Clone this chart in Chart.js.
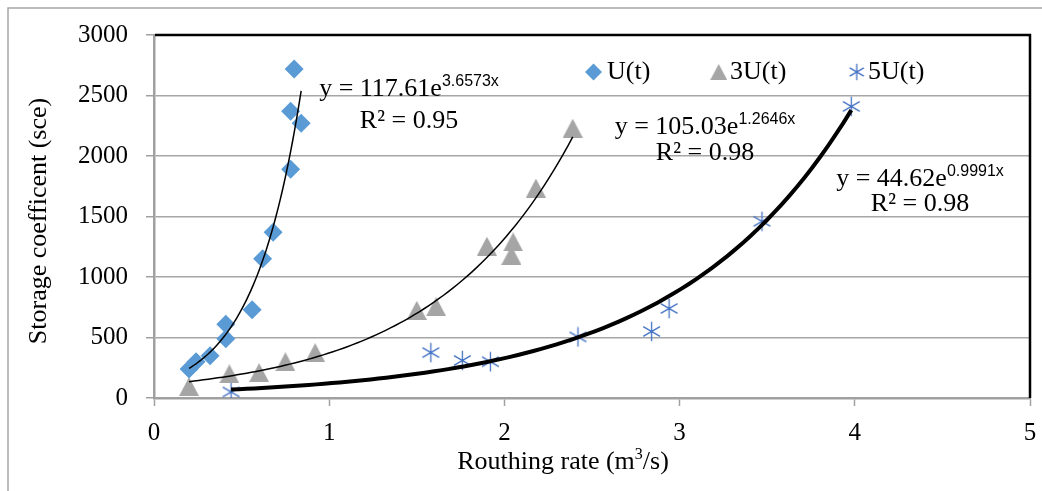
<!DOCTYPE html>
<html><head><meta charset="utf-8">
<script src="https://cdn.jsdelivr.net/npm/chart.js@4/dist/chart.umd.min.js"></script>
<style>html,body{margin:0;padding:0;background:#fff;overflow:hidden}canvas{display:block}</style>
</head><body>
<canvas id="c" width="1042" height="491"></canvas>
<script>
// ---- data ----
const seriesNames = ['U(t)', '3U(t)', '5U(t)'];
const uX  = [0.20, 0.24, 0.32, 0.41, 0.41, 0.56, 0.62, 0.68, 0.78, 0.78, 0.84, 0.80];
const uY  = [240, 300, 350, 490, 610, 730, 1150, 1370, 1890, 2370, 2270, 2720];
const u3X = [0.20, 0.43, 0.60, 0.75, 0.92, 1.50, 1.61, 1.90, 2.04, 2.05, 2.18, 2.39];
const u3Y = [95, 200, 210, 300, 375, 725, 755, 1255, 1180, 1290, 1735, 2230];
const u5X = [0.44, 1.58, 1.76, 1.92, 2.42, 2.84, 2.94, 3.47, 3.98];
const u5Y = [50, 375, 310, 300, 505, 550, 740, 1460, 2410];
// exponential trendline coefficients shown on the chart: y = a * e^(b x)
const trendA = [117.61, 105.03, 44.62];
const trendB = [3.6573, 1.2646, 0.9991];
const trendR2 = ['0.95', '0.98', '0.98'];
const trendExp = ['3.6573x', '1.2646x', '0.9991x'];
const trendCoef = ['117.61', '105.03', '44.62'];
const xTicks = [0, 1, 2, 3, 4, 5];
const yTicks = [0, 500, 1000, 1500, 2000, 2500, 3000];
const xTitle = ['Routhing rate (m', '3', '/s)'];
const yTitle = 'Storage coefficent (sce)';

const COL_U = '#5B9BD5', COL_3U = '#A5A5A5', COL_5U = '#4472C4';
const SERIF = '"Liberation Serif","Times New Roman",serif';
const SANS = '"Liberation Sans",Arial,sans-serif';

function pts(xs, ys) { return xs.map((x, i) => ({ x, y: ys[i] })); }
function trend(i, xs) {
  const lo = Math.min(...xs), hi = Math.max(...xs), n = 80, out = [];
  for (let k = 0; k <= n; k++) { const x = lo + (hi - lo) * k / n; out.push({ x, y: trendA[i] * Math.exp(trendB[i] * x) }); }
  return out;
}
function makeStar(size, color, lw) {
  const c = document.createElement('canvas'); c.width = c.height = size;
  const g = c.getContext('2d'); g.strokeStyle = color; g.lineWidth = lw;
  const r = size / 2 - 0.8, m = size / 2; g.beginPath();
  for (let k = 0; k < 3; k++) { const a = Math.PI / 2 + k * Math.PI / 3;
    g.moveTo(m + r * Math.cos(a), m + r * Math.sin(a)); g.lineTo(m - r * Math.cos(a), m - r * Math.sin(a)); }
  g.stroke(); return c;
}
function makeTri(w, h, color) {
  const c = document.createElement('canvas'); c.width = w; c.height = h;
  const g = c.getContext('2d'); g.fillStyle = color; g.beginPath();
  g.moveTo(w / 2, 0); g.lineTo(w, h); g.lineTo(0, h); g.closePath(); g.fill(); return c;
}
const starImg = makeStar(21, COL_5U, 1.3), triImg = makeTri(20, 19, COL_3U);
const starLeg = makeStar(18, COL_5U, 1.3), triLeg = makeTri(17, 16, COL_3U);

const deco = {
  id: 'deco',
  beforeDraw(chart) {
    const ctx = chart.ctx; ctx.save();
    ctx.fillStyle = '#fff'; ctx.fillRect(0, 0, chart.width, chart.height);
    ctx.strokeStyle = '#a6a6a6'; ctx.lineWidth = 1.5;
    ctx.strokeRect(8, 8, chart.width + 20, chart.height + 20);
    ctx.restore();
  },
  afterDraw(chart) {
    const ctx = chart.ctx, a = chart.chartArea; ctx.save();
    // top and right frame of plot area
    ctx.strokeStyle = '#000'; ctx.lineWidth = 2.5; ctx.beginPath();
    ctx.moveTo(a.left + 1, a.top); ctx.lineTo(a.right, a.top); ctx.lineTo(a.right, a.bottom); ctx.stroke();
    ctx.fillStyle = '#000'; ctx.textBaseline = 'middle';
    // trendline equations
    const eq = [[409, 89, 121], [705, 127, 153], [920, 179, 204]];
    eq.forEach((p, i) => {
      ctx.font = '26px ' + SERIF; const t1 = 'y = ' + trendCoef[i] + 'e';
      const w1 = ctx.measureText(t1).width; ctx.font = '16px ' + SANS;
      const w2 = ctx.measureText(trendExp[i]).width; let x0 = p[0] - (w1 + w2) / 2;
      ctx.textAlign = 'left'; ctx.font = '26px ' + SERIF; ctx.fillText(t1, x0, p[1]);
      ctx.font = '16px ' + SANS; ctx.fillText(trendExp[i], x0 + w1, p[1] - 7);
      ctx.font = '26px ' + SERIF; ctx.textAlign = 'center'; ctx.fillText('R\u00B2 = ' + trendR2[i], p[0], p[2]);
    });
    // legend
    const ly = 72; ctx.textAlign = 'left'; ctx.font = '26px ' + SERIF;
    ctx.fillStyle = COL_U; ctx.beginPath(); const dx = 593.5, r = 8.5;
    ctx.moveTo(dx - r, ly); ctx.lineTo(dx, ly - r); ctx.lineTo(dx + r, ly); ctx.lineTo(dx, ly + r); ctx.closePath(); ctx.fill();
    ctx.drawImage(triLeg, 718.7 - 8.5, ly - 8);
    ctx.drawImage(starLeg, 856.7 - 9, ly - 9);
    ctx.fillStyle = '#000';
    ctx.fillText(seriesNames[0], 607, ly); ctx.fillText(seriesNames[1], 730, ly); ctx.fillText(seriesNames[2], 868, ly);
    // axis titles
    ctx.save(); ctx.translate(39, 221); ctx.rotate(-Math.PI / 2); ctx.textAlign = 'center';
    ctx.font = '26px ' + SERIF; ctx.fillText(yTitle, 0, 0); ctx.restore();
    ctx.font = '26px ' + SERIF; const wa = ctx.measureText(xTitle[0]).width, wc = ctx.measureText(xTitle[2]).width;
    ctx.font = '16px ' + SERIF; const wb = ctx.measureText(xTitle[1]).width;
    let tx = 563 - (wa + wb + wc) / 2, ty = 462; ctx.textAlign = 'left';
    ctx.font = '26px ' + SERIF; ctx.fillText(xTitle[0], tx, ty);
    ctx.font = '16px ' + SERIF; ctx.fillText(xTitle[1], tx + wa, ty - 7);
    ctx.font = '26px ' + SERIF; ctx.fillText(xTitle[2], tx + wa + wb, ty);
    ctx.restore();
  }
};

function zeroPad(s) { s.paddingLeft = s.paddingRight = s.paddingTop = s.paddingBottom = 0; }

new Chart(document.getElementById('c'), {
  type: 'scatter',
  data: {
    datasets: [
      { label: seriesNames[0], data: pts(uX, uY), pointStyle: 'rectRot', pointRadius: 9.5, pointHoverRadius: 9.5,
        backgroundColor: COL_U, borderWidth: 0, borderColor: COL_U, order: 3 },
      { label: seriesNames[1], data: pts(u3X, u3Y), pointStyle: triImg, order: 3 },
      { label: seriesNames[2], data: pts(u5X, u5Y), pointStyle: starImg, order: 3 },
      { type: 'line', label: 't1', data: trend(0, uX), showLine: true, pointRadius: 0, borderColor: '#000', borderWidth: 1.5, fill: false, order: 1 },
      { type: 'line', label: 't2', data: trend(1, u3X), showLine: true, pointRadius: 0, borderColor: '#000', borderWidth: 1.5, fill: false, order: 1 },
      { type: 'line', label: 't3', data: trend(2, u5X), showLine: true, pointRadius: 0, borderColor: '#000', borderWidth: 4, fill: false, order: 1 }
    ]
  },
  options: {
    responsive: false, animation: false, devicePixelRatio: 1,
    layout: { padding: { top: 35, right: 12, left: 0, bottom: 0 } },
    plugins: { legend: { display: false }, tooltip: { enabled: false } },
    scales: {
      x: {
        type: 'linear', min: 0, max: 5,
        afterBuildTicks: s => { s.ticks = xTicks.map(v => ({ value: v })); },
        afterFit: s => { s.height = 93; zeroPad(s); },
        grid: { drawOnChartArea: false, drawTicks: true, tickLength: 8, tickColor: '#a0a0a0', tickWidth: 1.5 },
        border: { color: '#a0a0a0', width: 2.5 },
        ticks: { color: '#000', font: { family: SERIF, size: 25 }, padding: 12, maxRotation: 0, callback: v => String(v) }
      },
      y: {
        type: 'linear', min: 0, max: 3000,
        afterBuildTicks: s => { s.ticks = yTicks.map(v => ({ value: v })); },
        afterFit: s => { s.width = 154; zeroPad(s); },
        grid: { color: '#a6a6a6', lineWidth: 1.5, drawTicks: true, tickLength: 8, tickColor: '#a0a0a0', tickWidth: 1.5 },
        border: { color: '#a0a0a0', width: 2.5 },
        ticks: { color: '#000', font: { family: SERIF, size: 25 }, padding: 18, callback: v => String(v) }
      }
    }
  },
  plugins: [deco]
});
</script>
</body></html>
